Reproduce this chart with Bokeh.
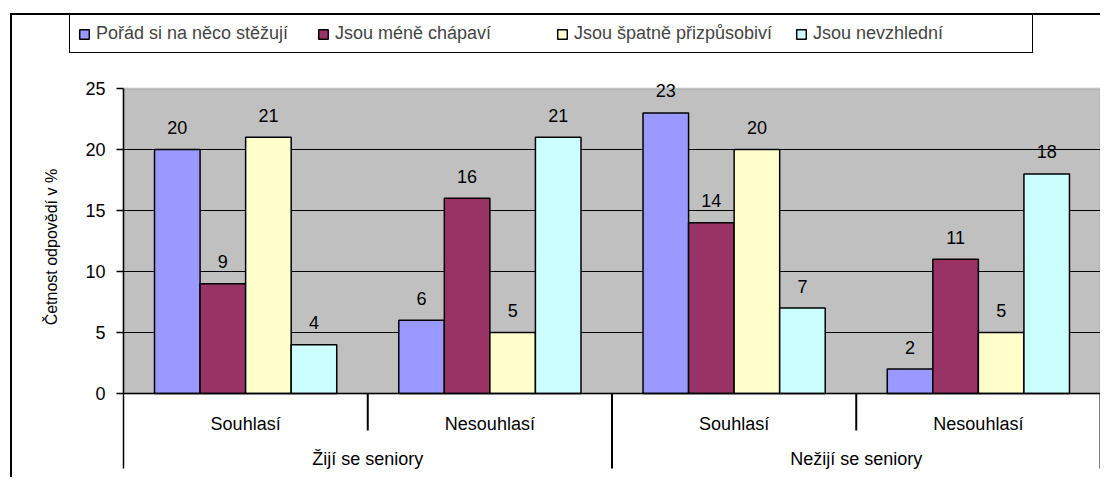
from math import pi
from bokeh.plotting import figure
from bokeh.models import (Range1d, BoxAnnotation, Legend, LegendItem,
                          ColumnDataSource)
from bokeh.core.properties import value
from bokeh.embed import file_html
from bokeh.resources import INLINE

# ---------------- data ----------------
groups = ["Žijí se seniory", "Nežijí se seniory"]
subcats = ["Souhlasí", "Nesouhlasí"]
series_names = ["Pořád si na něco stěžují", "Jsou méně chápaví",
                "Jsou špatně přizpůsobiví", "Jsou nevzhlední"]
s_stezuji = [20, 6, 23, 2]
s_chapavi = [9, 16, 14, 11]
s_prizpusobivi = [21, 5, 20, 5]
s_nevzhledni = [4, 21, 7, 18]
y_ticks = [0, 5, 10, 15, 20, 25]
y_label = "Četnost odpovědí v %"

# ---------------- layout / styles ----------------
colors = ["#9999FF", "#993366", "#FFFFCC", "#CCFFFF"]
FONT = "Liberation Sans"
FS = "18px"
W, H = 1090, 464           # canvas size
PL, PT = 111, 73           # plot-area offset inside canvas (px)
PW, PH = 977, 305          # plot-area size (px)
AXIS_BELOW = 75            # category axis depth (px)
LEG_H = 35                 # legend box height (px)

series = [s_stezuji, s_chapavi, s_prizpusobivi, s_nevzhledni]
ncat = len(groups) * len(subcats)
ymax = max(y_ticks)
ux = PW / ncat             # px per x unit
uy = PH / ymax             # px per y unit

x_range = Range1d(-PL / ux, (W - PL) / ux)
y_range = Range1d(-(H - PT - PH) / uy, ymax + PT / uy)

p = figure(width=W, height=H, x_range=x_range, y_range=y_range,
           output_backend="svg", toolbar_location=None,
           min_border_left=0, min_border_right=0, min_border_top=0,
           min_border_bottom=0)
p.styles = {"border-top": "2px solid black", "border-left": "2px solid black",
            "margin-left": "10px", "margin-top": "13px"}
p.background_fill_color = "white"
p.border_fill_color = "white"
p.outline_line_color = None
p.xaxis.visible = False
p.yaxis.visible = False
p.xgrid.visible = False
p.ygrid.visible = False

# grey plot area with grey border
p.add_layout(BoxAnnotation(left=0, right=ncat, bottom=0, top=ymax,
                           fill_color="#C0C0C0", fill_alpha=1,
                           line_color="#808080", line_width=2,
                           level="underlay"))

# horizontal gridlines
grid_vals = [t for t in y_ticks if 0 < t < ymax]
p.segment(x0=[0] * len(grid_vals), y0=grid_vals, x1=[ncat] * len(grid_vals),
          y1=grid_vals, line_color="black", line_width=1)

# bars + value labels
bar_w = 0.1865
offsets = [-1.5 * bar_w, -0.5 * bar_w, 0.5 * bar_w, 1.5 * bar_w]
renderers = []
for k, (vals, col) in enumerate(zip(series, colors)):
    xs = [i + 0.5 + offsets[k] for i in range(ncat)]
    src = ColumnDataSource(dict(x=xs, top=vals, lab=[str(v) for v in vals]))
    r = p.vbar(x="x", top="top", bottom=0, width=bar_w, source=src,
               fill_color=col, line_color="black", line_width=1.5)
    renderers.append(r)
    p.text(x="x", y="top", text="lab", source=src, y_offset=-22,
           text_align="center", text_baseline="middle",
           text_font=value(FONT), text_font_size=FS, text_color="black")

# zero line
p.segment(x0=[0], y0=[0], x1=[ncat], y1=[0], line_color="black",
          line_width=1.5)

# y axis (line, ticks, labels)
axis_bottom = -AXIS_BELOW / uy
p.segment(x0=[0], y0=[axis_bottom], x1=[0], y1=[ymax], line_color="black",
          line_width=1.5)
tick_len = 7 / ux
p.segment(x0=[-tick_len] * len(y_ticks), y0=y_ticks, x1=[0] * len(y_ticks),
          y1=y_ticks, line_color="black", line_width=1.5)
p.text(x=[0] * len(y_ticks), y=y_ticks, text=[str(t) for t in y_ticks],
       x_offset=-18, text_align="right", text_baseline="middle",
       text_font=value(FONT), text_font_size=FS, text_color="black")

# y axis title
p.text(x=[-72 / ux], y=[ymax / 2 - 0.5], text=[y_label], angle=pi / 2,
       text_align="center", text_baseline="middle", text_font=value(FONT),
       text_font_size="16px", text_color="black")

# nested category axis
short_end = -37 / uy
sep_x, sep_y1 = [], []
for i in range(1, ncat + 1):
    sep_x.append(i)
    sep_y1.append(axis_bottom if i % len(subcats) == 0 else short_end)
p.segment(x0=sep_x, y0=[0] * len(sep_x), x1=sep_x, y1=sep_y1,
          line_color="black", line_width=2)

sub_labels = [s for g in groups for s in subcats]
p.text(x=[i + 0.5 for i in range(ncat)], y=[-30 / uy] * ncat,
       text=sub_labels, text_align="center", text_baseline="middle",
       text_font=value(FONT), text_font_size=FS, text_color="black")
p.text(x=[len(subcats) * (j + 0.5) for j in range(len(groups))],
       y=[-65 / uy] * len(groups), text=groups, text_align="center",
       text_baseline="middle", text_font=value(FONT), text_font_size=FS,
       text_color="black")

# legend
legend = Legend(items=[LegendItem(label=n, renderers=[r])
                       for n, r in zip(series_names, renderers)],
                orientation="horizontal", location=(57, H - 3 - LEG_H),
                label_text_font=FONT, label_text_font_size=FS,
                glyph_width=12, glyph_height=12, label_standoff=6,
                spacing=10, padding=8, margin=0, label_width=211,
                border_line_color="black", border_line_width=1.5,
                border_line_alpha=1,
                background_fill_color="white", background_fill_alpha=1)
p.add_layout(legend, "center")

open("out.html", "w").write(file_html(p, INLINE))
